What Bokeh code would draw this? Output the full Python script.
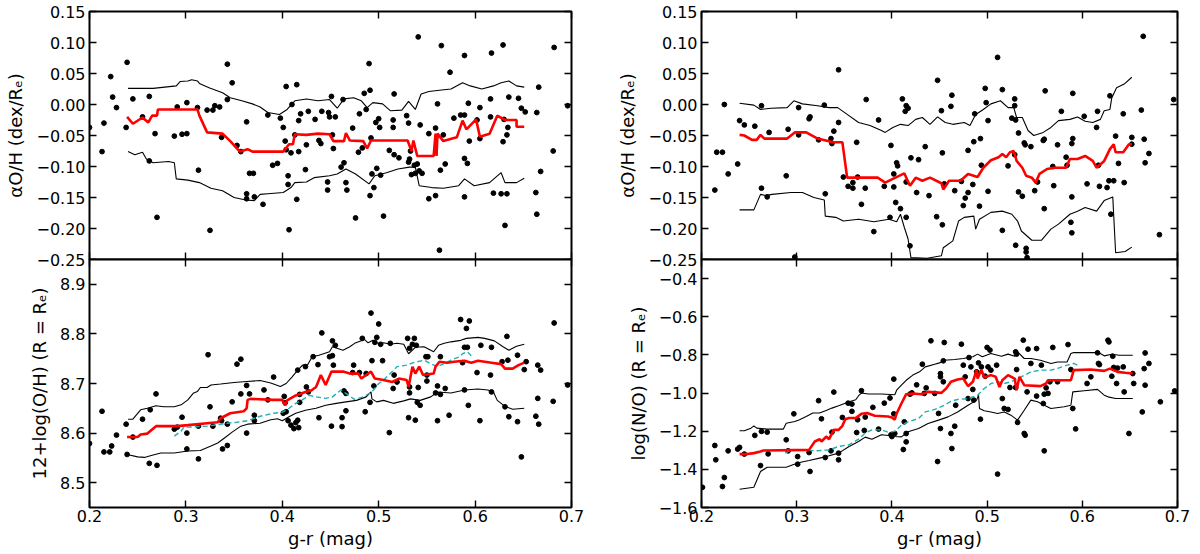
from bokeh.plotting import figure
from bokeh.models import Range1d, LinearAxis, FixedTicker, CustomJSTickFormatter
from bokeh.layouts import row, column
from bokeh.embed import file_html
from bokeh.resources import INLINE

FONT = "DejaVu Sans"

x_ticks = [0.2, 0.3, 0.4, 0.5, 0.6, 0.7]
alpha_ticks = [-0.25, -0.2, -0.15, -0.1, -0.05, 0.0, 0.05, 0.1, 0.15]
oh_ticks = [8.5, 8.6, 8.7, 8.8, 8.9]
no_ticks = [-1.6, -1.4, -1.2, -1.0, -0.8, -0.6, -0.4]

x_label = "g-r (mag)"
alpha_label = "αO/H (dex/Rₑ)"
oh_label = "12+log(O/H) (R = Rₑ)"
no_label = "log(N/O) (R = Rₑ)"

# ---------------- top-left: alpha O/H ----------------
tl_points = [
    (0.200, -0.037), (0.213, -0.076), (0.215, -0.030), (0.222, 0.045), (0.224, 0.012), (0.228, -0.005),
    (0.238, -0.037), (0.239, 0.068), (0.245, 0.009), (0.255, -0.020), (0.262, 0.013), (0.262, -0.091),
    (0.268, -0.047), (0.270, -0.182), (0.288, -0.051), (0.291, -0.004), (0.296, -0.048), (0.301, -0.047),
    (0.301, 0.003), (0.312, -0.005), (0.313, -0.106), (0.322, -0.009), (0.325, -0.203), (0.328, -0.009),
    (0.330, -0.002), (0.335, -0.004), (0.337, -0.053), (0.343, 0.065), (0.343, 0.008), (0.348, 0.035),
    (0.353, -0.066), (0.357, -0.076), (0.363, -0.028), (0.366, -0.111), (0.370, -0.111), (0.363, -0.144),
    (0.363, -0.152), (0.371, -0.149), (0.380, -0.161), (0.385, -0.017), (0.390, -0.098), (0.395, -0.095),
    (0.398, -0.022), (0.401, -0.037), (0.403, -0.059), (0.404, -0.073), (0.404, 0.029), (0.407, -0.202),
    (0.415, 0.032), (0.406, -0.115), (0.406, -0.129), (0.415, -0.153), (0.410, 0.000), (0.413, -0.049),
    (0.409, -0.078), (0.417, -0.026), (0.417, -0.076), (0.419, -0.015), (0.425, -0.065), (0.424, -0.105),
    (0.427, -0.011), (0.434, -0.024), (0.438, -0.058), (0.440, -0.063), (0.441, -0.011), (0.447, -0.125),
    (0.447, -0.138), (0.448, -0.013), (0.449, -0.020), (0.451, 0.013), (0.452, -0.049), (0.453, -0.071),
    (0.455, -0.020), (0.461, -0.101), (0.463, 0.008), (0.464, -0.094), (0.466, -0.126), (0.467, -0.138),
    (0.473, -0.038), (0.476, -0.183), (0.479, -0.077), (0.480, -0.015), (0.485, 0.018), (0.483, -0.070),
    (0.487, -0.008), (0.490, 0.066), (0.491, 0.023), (0.492, -0.054), (0.491, -0.147), (0.493, -0.112),
    (0.495, -0.134), (0.497, -0.029), (0.498, -0.103), (0.500, -0.023), (0.501, -0.037), (0.502, -0.114),
    (0.505, -0.180), (0.511, -0.074), (0.515, -0.037), (0.515, -0.025), (0.516, 0.017), (0.516, -0.081),
    (0.521, -0.086), (0.529, -0.018), (0.531, -0.030), (0.533, -0.075), (0.532, -0.088), (0.531, -0.093),
    (0.534, -0.113), (0.537, -0.098), (0.538, -0.111), (0.540, -0.096), (0.541, 0.109), (0.543, -0.033),
    (0.545, -0.111), (0.542, -0.107), (0.552, -0.047), (0.552, -0.152), (0.559, -0.038), (0.559, -0.147),
    (0.561, 0.001), (0.563, -0.235), (0.565, 0.095), (0.564, -0.106), (0.567, -0.049), (0.569, -0.096),
    (0.574, 0.052), (0.578, -0.022), (0.585, -0.017), (0.589, -0.017), (0.589, 0.079), (0.589, -0.087),
    (0.592, -0.095), (0.589, -0.149), (0.593, 0.002), (0.594, -0.059), (0.602, -0.025), (0.605, -0.005),
    (0.605, -0.055), (0.617, 0.083), (0.616, 0.009), (0.619, -0.143), (0.616, -0.020), (0.629, 0.096),
    (0.629, -0.060), (0.630, -0.024), (0.627, -0.144), (0.631, -0.195), (0.633, -0.144), (0.633, -0.049),
    (0.634, -0.037), (0.635, 0.012), (0.645, 0.010), (0.648, -0.006), (0.652, -0.012), (0.664, -0.013),
    (0.666, 0.028), (0.663, -0.142), (0.664, -0.177), (0.668, -0.108), (0.681, -0.075), (0.682, 0.092),
    (0.696, -0.002),
]
tl_upper = [
    (0.240, 0.026), (0.266, 0.026), (0.290, 0.030), (0.294, 0.037), (0.302, 0.038), (0.306, 0.040),
    (0.312, 0.038), (0.314, 0.034), (0.324, 0.027), (0.338, 0.019), (0.346, 0.011), (0.358, 0.006),
    (0.369, 0.001), (0.377, -0.004), (0.385, -0.013), (0.397, -0.016), (0.405, -0.008), (0.413, 0.006),
    (0.425, 0.009), (0.437, 0.006), (0.449, 0.008), (0.457, -0.006), (0.464, 0.009), (0.474, 0.011),
    (0.482, 0.006), (0.488, -0.005), (0.494, 0.003), (0.504, 0.001), (0.512, -0.010), (0.524, -0.009),
    (0.531, 0.005), (0.538, -0.008), (0.544, 0.017), (0.552, 0.021), (0.563, 0.023), (0.575, 0.025),
    (0.587, 0.035), (0.595, 0.030), (0.607, 0.025), (0.619, 0.030), (0.627, 0.035), (0.635, 0.038),
    (0.643, 0.030), (0.651, 0.028),
]
tl_median = [
    (0.239, -0.020), (0.245, -0.031), (0.255, -0.021), (0.261, -0.029), (0.265, -0.018), (0.270, -0.018),
    (0.271, -0.008), (0.312, -0.008), (0.314, -0.018), (0.322, -0.045), (0.338, -0.047), (0.346, -0.059),
    (0.356, -0.076), (0.364, -0.072), (0.369, -0.076), (0.401, -0.076), (0.407, -0.064), (0.411, -0.064),
    (0.413, -0.048), (0.425, -0.049), (0.437, -0.047), (0.449, -0.048), (0.453, -0.059), (0.464, -0.059),
    (0.466, -0.046), (0.470, -0.058), (0.484, -0.059), (0.488, -0.071), (0.492, -0.058), (0.530, -0.058),
    (0.534, -0.075), (0.536, -0.058), (0.540, -0.083), (0.557, -0.083), (0.559, -0.047), (0.560, -0.083),
    (0.561, -0.047), (0.567, -0.059), (0.581, -0.053), (0.587, -0.026), (0.591, -0.040), (0.601, -0.024),
    (0.605, -0.052), (0.615, -0.047), (0.623, -0.018), (0.631, -0.025), (0.643, -0.025), (0.643, -0.036),
    (0.651, -0.036),
]
tl_lower = [
    (0.240, -0.076), (0.247, -0.081), (0.255, -0.077), (0.259, -0.088), (0.266, -0.094), (0.282, -0.092),
    (0.288, -0.094), (0.290, -0.120), (0.302, -0.122), (0.314, -0.126), (0.326, -0.135), (0.338, -0.139),
    (0.350, -0.150), (0.362, -0.154), (0.371, -0.155), (0.377, -0.145), (0.385, -0.144), (0.401, -0.142),
    (0.409, -0.134), (0.413, -0.126), (0.425, -0.125), (0.433, -0.118), (0.449, -0.115), (0.457, -0.112),
    (0.466, -0.104), (0.476, -0.112), (0.490, -0.128), (0.496, -0.115), (0.508, -0.110), (0.520, -0.104),
    (0.532, -0.101), (0.538, -0.101), (0.542, -0.131), (0.555, -0.134), (0.567, -0.135), (0.583, -0.131),
    (0.589, -0.120), (0.599, -0.131), (0.615, -0.126), (0.627, -0.110), (0.631, -0.126), (0.643, -0.126),
    (0.651, -0.119),
]

# ---------------- top-right: alpha O/H ----------------
tr_points = [
    (0.214, -0.138), (0.216, -0.077), (0.222, -0.077), (0.224, 0.000), (0.228, -0.112), (0.238, -0.096),
    (0.240, -0.026), (0.245, -0.033), (0.256, -0.035), (0.263, -0.002), (0.263, -0.135), (0.269, -0.149),
    (0.271, -0.045), (0.289, -0.115), (0.291, -0.040), (0.298, -0.246), (0.302, -0.049), (0.302, -0.005),
    (0.313, -0.023), (0.314, -0.020), (0.323, -0.057), (0.329, -0.001), (0.330, -0.144), (0.336, -0.055),
    (0.337, -0.063), (0.339, -0.043), (0.344, 0.056), (0.344, -0.029), (0.349, -0.117), (0.354, -0.132),
    (0.359, -0.126), (0.359, -0.135), (0.363, -0.061), (0.364, -0.117), (0.368, -0.161), (0.372, -0.135),
    (0.373, 0.008), (0.381, -0.205), (0.386, -0.025), (0.392, -0.132), (0.399, -0.066), (0.398, -0.182),
    (0.402, -0.112), (0.402, -0.133), (0.405, -0.094), (0.406, -0.099), (0.404, -0.158), (0.409, -0.168),
    (0.415, -0.182), (0.419, -0.228), (0.411, 0.009), (0.415, -0.002), (0.417, -0.006), (0.414, -0.011),
    (0.420, -0.086), (0.415, -0.125), (0.426, -0.142), (0.428, -0.089), (0.435, -0.068), (0.439, -0.147),
    (0.447, -0.181), (0.448, 0.039), (0.452, -0.010), (0.453, -0.078), (0.453, -0.194), (0.455, -0.128),
    (0.462, -0.003), (0.463, 0.015), (0.466, -0.139), (0.473, -0.124), (0.475, -0.163), (0.477, -0.151),
    (0.480, -0.142), (0.480, -0.074), (0.485, -0.129), (0.486, -0.060), (0.487, -0.015), (0.492, -0.164),
    (0.493, -0.055), (0.494, -0.098), (0.498, 0.026), (0.499, 0.003), (0.501, -0.026), (0.501, -0.140),
    (0.511, 0.076), (0.516, 0.024), (0.516, -0.203), (0.522, -0.099), (0.529, 0.009), (0.529, -0.002),
    (0.526, -0.022), (0.530, -0.025), (0.529, -0.081), (0.530, -0.227), (0.533, -0.141), (0.533, -0.046),
    (0.537, -0.148), (0.539, -0.062), (0.540, -0.065), (0.541, -0.238), (0.541, -0.232), (0.542, -0.247),
    (0.546, -0.068), (0.550, -0.139), (0.553, -0.125), (0.559, -0.058), (0.560, -0.056), (0.560, -0.168),
    (0.561, 0.022), (0.569, -0.100), (0.570, -0.131), (0.574, -0.065), (0.578, -0.011), (0.583, -0.085),
    (0.584, -0.098), (0.589, -0.063), (0.590, -0.055), (0.590, 0.018), (0.589, -0.149), (0.588, -0.190),
    (0.589, -0.207), (0.602, -0.019), (0.605, -0.128), (0.616, -0.011), (0.618, -0.132), (0.617, -0.098),
    (0.615, -0.037), (0.626, -0.134), (0.628, -0.123), (0.633, -0.123), (0.630, -0.177), (0.629, 0.014),
    (0.635, -0.051), (0.638, -0.095), (0.643, -0.015), (0.644, -0.126), (0.652, -0.053), (0.652, -0.064),
    (0.662, -0.009), (0.664, 0.110), (0.665, -0.056), (0.666, -0.094), (0.670, -0.079), (0.681, -0.210),
    (0.696, 0.008),
]
tr_upper = [
    (0.240, 0.002), (0.255, -0.001), (0.262, -0.008), (0.273, -0.006), (0.290, -0.005), (0.297, 0.006),
    (0.306, 0.001), (0.322, -0.002), (0.334, -0.005), (0.343, -0.005), (0.353, -0.016), (0.365, -0.029),
    (0.377, -0.034), (0.389, -0.042), (0.393, -0.045), (0.401, -0.037), (0.409, -0.032), (0.417, -0.034),
    (0.425, -0.024), (0.432, -0.021), (0.440, -0.032), (0.448, -0.020), (0.456, -0.029), (0.464, -0.032),
    (0.476, -0.029), (0.482, -0.034), (0.488, -0.016), (0.496, -0.008), (0.504, 0.001), (0.514, 0.006),
    (0.522, -0.005), (0.528, -0.005), (0.531, -0.021), (0.537, -0.021), (0.543, -0.042), (0.549, -0.050),
    (0.559, -0.045), (0.567, -0.037), (0.575, -0.026), (0.587, -0.024), (0.595, -0.020), (0.603, -0.027),
    (0.611, -0.029), (0.619, -0.024), (0.623, -0.010), (0.629, -0.008), (0.631, 0.011), (0.636, 0.027),
    (0.644, 0.033), (0.652, 0.044),
]
tr_median = [
    (0.240, -0.049), (0.245, -0.050), (0.253, -0.057), (0.258, -0.057), (0.262, -0.049), (0.266, -0.055),
    (0.290, -0.055), (0.298, -0.045), (0.310, -0.045), (0.322, -0.055), (0.338, -0.061), (0.348, -0.061),
    (0.353, -0.118), (0.385, -0.118), (0.393, -0.126), (0.401, -0.120), (0.413, -0.111), (0.419, -0.131),
    (0.425, -0.118), (0.432, -0.123), (0.440, -0.118), (0.452, -0.127), (0.454, -0.137), (0.460, -0.123),
    (0.472, -0.123), (0.480, -0.112), (0.490, -0.117), (0.496, -0.102), (0.504, -0.090), (0.512, -0.085),
    (0.516, -0.080), (0.520, -0.085), (0.524, -0.077), (0.528, -0.075), (0.531, -0.091), (0.537, -0.102),
    (0.541, -0.115), (0.547, -0.118), (0.551, -0.126), (0.555, -0.112), (0.563, -0.104), (0.571, -0.102),
    (0.583, -0.102), (0.587, -0.088), (0.595, -0.088), (0.603, -0.083), (0.611, -0.091), (0.615, -0.102),
    (0.623, -0.091), (0.629, -0.072), (0.633, -0.064), (0.635, -0.077), (0.643, -0.077), (0.649, -0.064),
    (0.652, -0.064),
]
tr_lower = [
    (0.240, -0.170), (0.255, -0.170), (0.262, -0.145), (0.268, -0.147), (0.274, -0.145), (0.294, -0.142),
    (0.306, -0.142), (0.318, -0.150), (0.329, -0.154), (0.330, -0.180), (0.341, -0.182), (0.349, -0.188),
    (0.365, -0.185), (0.381, -0.189), (0.397, -0.185), (0.405, -0.189), (0.409, -0.177), (0.413, -0.198),
    (0.417, -0.217), (0.420, -0.247), (0.437, -0.248), (0.452, -0.244), (0.454, -0.231), (0.464, -0.220),
    (0.470, -0.188), (0.476, -0.182), (0.486, -0.180), (0.488, -0.201), (0.492, -0.185), (0.504, -0.174),
    (0.516, -0.172), (0.526, -0.177), (0.532, -0.188), (0.536, -0.204), (0.547, -0.219), (0.557, -0.219),
    (0.567, -0.201), (0.575, -0.193), (0.587, -0.177), (0.595, -0.172), (0.603, -0.166), (0.615, -0.172),
    (0.623, -0.155), (0.632, -0.149), (0.635, -0.239), (0.645, -0.237), (0.652, -0.230),
]

# ---------------- bottom-left: 12+log(O/H) ----------------
bl_points = [
    (0.200, 8.579), (0.213, 8.644), (0.215, 8.562), (0.221, 8.562), (0.223, 8.574), (0.228, 8.596),
    (0.238, 8.618), (0.239, 8.557), (0.245, 8.592), (0.255, 8.628), (0.262, 8.539), (0.263, 8.647),
    (0.269, 8.679), (0.270, 8.535), (0.288, 8.608), (0.291, 8.612), (0.296, 8.632), (0.301, 8.600),
    (0.301, 8.568), (0.313, 8.614), (0.313, 8.548), (0.323, 8.758), (0.325, 8.653), (0.328, 8.614),
    (0.336, 8.630), (0.337, 8.625), (0.338, 8.568), (0.343, 8.575), (0.343, 8.618), (0.348, 8.663),
    (0.353, 8.739), (0.357, 8.749), (0.357, 8.679), (0.363, 8.696), (0.363, 8.600), (0.366, 8.679),
    (0.371, 8.625), (0.371, 8.636), (0.381, 8.687), (0.385, 8.667), (0.391, 8.713), (0.401, 8.640),
    (0.402, 8.674), (0.403, 8.661), (0.404, 8.643), (0.406, 8.625), (0.409, 8.616), (0.412, 8.609),
    (0.416, 8.626), (0.414, 8.621), (0.417, 8.611), (0.416, 8.727), (0.418, 8.662), (0.418, 8.678),
    (0.425, 8.693), (0.424, 8.734), (0.427, 8.683), (0.432, 8.754), (0.437, 8.738), (0.438, 8.631),
    (0.441, 8.802), (0.449, 8.754), (0.452, 8.786), (0.451, 8.614), (0.452, 8.756), (0.455, 8.777),
    (0.453, 8.737), (0.462, 8.613), (0.462, 8.631), (0.464, 8.685), (0.466, 8.645), (0.466, 8.680),
    (0.473, 8.722), (0.474, 8.737), (0.480, 8.722), (0.483, 8.791), (0.486, 8.643), (0.487, 8.720),
    (0.491, 8.662), (0.492, 8.842), (0.493, 8.746), (0.495, 8.695), (0.496, 8.783), (0.498, 8.793),
    (0.500, 8.820), (0.502, 8.779), (0.504, 8.746), (0.511, 8.601), (0.512, 8.781), (0.516, 8.717),
    (0.515, 8.690), (0.519, 8.703), (0.530, 8.791), (0.531, 8.631), (0.532, 8.771), (0.532, 8.693),
    (0.532, 8.681), (0.535, 8.779), (0.537, 8.791), (0.538, 8.626), (0.539, 8.777), (0.540, 8.662),
    (0.541, 8.692), (0.543, 8.656), (0.549, 8.754), (0.551, 8.754), (0.550, 8.717), (0.550, 8.705),
    (0.559, 8.681), (0.561, 8.695), (0.561, 8.625), (0.564, 8.754), (0.564, 8.678), (0.569, 8.690),
    (0.573, 8.636), (0.585, 8.829), (0.589, 8.773), (0.591, 8.811), (0.592, 8.773), (0.594, 8.826),
    (0.593, 8.656), (0.589, 8.687), (0.587, 8.742), (0.602, 8.722), (0.605, 8.625), (0.606, 8.777),
    (0.616, 8.717), (0.617, 8.773), (0.617, 8.683), (0.628, 8.744), (0.633, 8.795), (0.631, 8.653),
    (0.634, 8.747), (0.635, 8.633), (0.644, 8.623), (0.644, 8.757), (0.651, 8.728), (0.648, 8.552),
    (0.653, 8.744), (0.663, 8.634), (0.665, 8.670), (0.666, 8.618), (0.665, 8.737), (0.668, 8.727),
    (0.681, 8.664), (0.682, 8.822), (0.696, 8.697),
]
bl_upper = [
    (0.240, 8.628), (0.245, 8.628), (0.253, 8.647), (0.260, 8.650), (0.269, 8.655), (0.277, 8.653),
    (0.288, 8.653), (0.295, 8.657), (0.302, 8.667), (0.308, 8.681), (0.312, 8.684), (0.315, 8.692),
    (0.322, 8.692), (0.326, 8.697), (0.336, 8.699), (0.350, 8.702), (0.363, 8.704), (0.377, 8.706),
    (0.388, 8.701), (0.398, 8.694), (0.404, 8.700), (0.410, 8.713), (0.416, 8.727), (0.421, 8.737),
    (0.426, 8.737), (0.431, 8.754), (0.438, 8.757), (0.449, 8.764), (0.452, 8.774), (0.463, 8.767),
    (0.470, 8.774), (0.475, 8.781), (0.482, 8.786), (0.484, 8.791), (0.489, 8.782), (0.494, 8.787),
    (0.501, 8.779), (0.505, 8.782), (0.512, 8.779), (0.519, 8.781), (0.526, 8.779), (0.531, 8.760),
    (0.538, 8.773), (0.547, 8.774), (0.557, 8.764), (0.562, 8.777), (0.568, 8.781), (0.575, 8.784),
    (0.585, 8.787), (0.591, 8.791), (0.603, 8.793), (0.610, 8.791), (0.620, 8.786), (0.629, 8.774),
    (0.635, 8.767), (0.643, 8.775), (0.651, 8.779),
]
bl_median = [
    (0.239, 8.592), (0.250, 8.592), (0.253, 8.597), (0.260, 8.599), (0.269, 8.614), (0.291, 8.614),
    (0.302, 8.616), (0.322, 8.620), (0.333, 8.622), (0.336, 8.630), (0.341, 8.635), (0.346, 8.640),
    (0.360, 8.644), (0.363, 8.650), (0.364, 8.667), (0.367, 8.669), (0.391, 8.667), (0.400, 8.667),
    (0.403, 8.656), (0.405, 8.666), (0.414, 8.676), (0.424, 8.683), (0.430, 8.686), (0.435, 8.693),
    (0.440, 8.717), (0.445, 8.697), (0.451, 8.724), (0.463, 8.724), (0.470, 8.720), (0.479, 8.720),
    (0.482, 8.710), (0.487, 8.717), (0.492, 8.724), (0.496, 8.710), (0.505, 8.707), (0.514, 8.703),
    (0.521, 8.710), (0.529, 8.707), (0.531, 8.693), (0.535, 8.734), (0.538, 8.720), (0.542, 8.734),
    (0.546, 8.717), (0.557, 8.720), (0.559, 8.734), (0.563, 8.744), (0.571, 8.742), (0.578, 8.744),
    (0.589, 8.746), (0.596, 8.742), (0.603, 8.746), (0.617, 8.742), (0.627, 8.739), (0.631, 8.730),
    (0.639, 8.730), (0.645, 8.737), (0.651, 8.742),
]
bl_cyan = [
    (0.288, 8.594), (0.295, 8.604), (0.298, 8.612), (0.302, 8.612), (0.322, 8.614), (0.333, 8.617),
    (0.343, 8.620), (0.353, 8.622), (0.364, 8.625), (0.377, 8.634), (0.391, 8.640), (0.400, 8.642),
    (0.407, 8.650), (0.414, 8.660), (0.419, 8.665), (0.428, 8.676), (0.435, 8.673), (0.445, 8.670),
    (0.452, 8.673), (0.461, 8.687), (0.466, 8.680), (0.475, 8.668), (0.484, 8.673), (0.493, 8.683),
    (0.500, 8.700), (0.505, 8.707), (0.512, 8.720), (0.519, 8.734), (0.529, 8.737), (0.536, 8.742),
    (0.547, 8.747), (0.554, 8.740), (0.561, 8.734), (0.568, 8.740), (0.575, 8.747), (0.584, 8.754),
    (0.587, 8.760), (0.592, 8.764), (0.597, 8.754),
]
bl_lower = [
    (0.239, 8.557), (0.250, 8.552), (0.257, 8.551), (0.264, 8.555), (0.274, 8.560), (0.288, 8.560),
    (0.295, 8.562), (0.302, 8.564), (0.315, 8.565), (0.326, 8.574), (0.333, 8.580), (0.340, 8.590),
    (0.348, 8.602), (0.357, 8.614), (0.364, 8.618), (0.377, 8.620), (0.388, 8.627), (0.395, 8.629),
    (0.400, 8.625), (0.407, 8.633), (0.414, 8.640), (0.424, 8.646), (0.435, 8.650), (0.445, 8.656),
    (0.456, 8.660), (0.466, 8.663), (0.477, 8.666), (0.487, 8.673), (0.492, 8.683), (0.493, 8.669),
    (0.498, 8.663), (0.505, 8.666), (0.515, 8.660), (0.526, 8.665), (0.533, 8.669), (0.543, 8.666),
    (0.554, 8.673), (0.561, 8.683), (0.575, 8.681), (0.589, 8.687), (0.603, 8.689), (0.613, 8.687),
    (0.619, 8.683), (0.623, 8.666), (0.631, 8.654), (0.639, 8.648), (0.651, 8.650),
]

# ---------------- bottom-right: log(N/O) ----------------
br_points = [
    (0.201, -1.494), (0.214, -1.275), (0.215, -1.350), (0.222, -1.490), (0.224, -1.443), (0.228, -1.303),
    (0.238, -1.294), (0.240, -1.285), (0.245, -1.320), (0.256, -1.222), (0.263, -1.201), (0.262, -1.380),
    (0.269, -1.205), (0.270, -1.319), (0.289, -1.245), (0.291, -1.303), (0.297, -1.109), (0.301, -1.333),
    (0.301, -1.373), (0.313, -1.312), (0.314, -1.411), (0.323, -1.040), (0.326, -1.135), (0.330, -1.338),
    (0.336, -1.303), (0.337, -1.205), (0.339, -0.995), (0.344, -1.350), (0.344, -1.315), (0.348, -1.128),
    (0.354, -1.053), (0.358, -1.058), (0.358, -1.096), (0.363, -1.207), (0.364, -1.140), (0.368, -0.988),
    (0.371, -1.196), (0.372, -1.126), (0.380, -1.075), (0.386, -1.189), (0.392, -1.053), (0.398, -1.026),
    (0.402, -0.927), (0.402, -1.109), (0.399, -1.219), (0.400, -1.228), (0.403, -1.212), (0.413, -1.151),
    (0.415, -1.256), (0.415, -1.212), (0.412, -1.296), (0.419, -1.006), (0.421, -0.999), (0.426, -0.957),
    (0.432, -0.849), (0.434, -1.002), (0.436, -0.973), (0.441, -0.726), (0.445, -1.002), (0.448, -1.359),
    (0.449, -1.107), (0.451, -0.898), (0.451, -0.915), (0.451, -1.186), (0.454, -0.941), (0.454, -0.831),
    (0.455, -0.735), (0.462, -1.212), (0.463, -1.291), (0.466, -1.174), (0.467, -1.064), (0.473, -0.744),
    (0.475, -0.854), (0.477, -0.915), (0.480, -1.029), (0.481, -0.814), (0.483, -0.863), (0.485, -0.981),
    (0.486, -1.037), (0.489, -0.889), (0.491, -0.842), (0.493, -1.137), (0.494, -0.863), (0.498, -0.912),
    (0.500, -0.761), (0.503, -0.775), (0.501, -0.863), (0.504, -0.880), (0.510, -0.854), (0.511, -1.425),
    (0.516, -1.029), (0.518, -1.081), (0.522, -1.086), (0.524, -0.971), (0.530, -0.784), (0.531, -0.796),
    (0.531, -0.877), (0.530, -0.971), (0.532, -1.154), (0.538, -0.723), (0.539, -1.212), (0.540, -1.221),
    (0.543, -0.770), (0.542, -0.994), (0.546, -0.845), (0.552, -0.767), (0.552, -1.016), (0.557, -0.854),
    (0.559, -1.055), (0.560, -1.303), (0.560, -1.006), (0.562, -0.973), (0.564, -1.002), (0.566, -0.941),
    (0.569, -0.761), (0.574, -0.941), (0.585, -0.746), (0.588, -0.877), (0.590, -1.081), (0.593, -1.188),
    (0.605, -0.950), (0.609, -0.915), (0.616, -0.789), (0.617, -0.845), (0.618, -0.851), (0.627, -0.723),
    (0.628, -0.732), (0.632, -0.807), (0.631, -0.912), (0.633, -0.866), (0.636, -0.950), (0.637, -0.869),
    (0.643, -0.863), (0.644, -0.994), (0.649, -1.212), (0.654, -0.950), (0.653, -0.898), (0.663, -1.099),
    (0.665, -0.872), (0.666, -0.790), (0.666, -0.959), (0.670, -0.845), (0.682, -1.046), (0.697, -0.989),
]
br_upper = [
    (0.240, -1.198), (0.245, -1.198), (0.252, -1.184), (0.255, -1.172), (0.258, -1.184), (0.269, -1.189),
    (0.286, -1.189), (0.289, -1.158), (0.298, -1.149), (0.303, -1.140), (0.310, -1.123), (0.317, -1.105),
    (0.324, -1.105), (0.331, -1.091), (0.337, -1.079), (0.344, -1.067), (0.351, -1.053), (0.356, -1.044),
    (0.362, -1.035), (0.365, -1.014), (0.368, -1.000), (0.375, -1.005), (0.389, -1.005), (0.403, -1.009),
    (0.405, -0.985), (0.410, -0.959), (0.415, -0.933), (0.422, -0.906), (0.429, -0.889), (0.435, -0.863),
    (0.445, -0.849), (0.450, -0.842), (0.455, -0.828), (0.466, -0.824), (0.475, -0.819), (0.485, -0.810),
    (0.490, -0.796), (0.495, -0.810), (0.504, -0.793), (0.515, -0.807), (0.522, -0.796), (0.529, -0.807),
    (0.532, -0.784), (0.539, -0.819), (0.546, -0.819), (0.556, -0.828), (0.567, -0.845), (0.574, -0.837),
    (0.584, -0.837), (0.588, -0.793), (0.591, -0.788), (0.609, -0.788), (0.617, -0.788), (0.623, -0.805),
    (0.631, -0.797), (0.639, -0.802), (0.653, -0.802),
]
br_median = [
    (0.240, -1.320), (0.248, -1.320), (0.255, -1.315), (0.262, -1.306), (0.265, -1.301), (0.313, -1.298),
    (0.319, -1.254), (0.324, -1.242), (0.326, -1.254), (0.331, -1.228), (0.334, -1.242), (0.339, -1.193),
    (0.344, -1.193), (0.348, -1.172), (0.351, -1.137), (0.355, -1.131), (0.362, -1.131), (0.368, -1.109),
    (0.374, -1.105), (0.382, -1.119), (0.396, -1.123), (0.400, -1.128), (0.403, -1.140), (0.405, -1.107),
    (0.410, -1.055), (0.415, -1.006), (0.422, -1.002), (0.431, -1.006), (0.438, -0.994), (0.452, -0.999),
    (0.457, -0.976), (0.462, -0.941), (0.469, -0.929), (0.475, -0.924), (0.480, -0.964), (0.485, -0.941),
    (0.489, -0.880), (0.490, -0.924), (0.494, -0.877), (0.497, -0.919), (0.504, -0.906), (0.509, -0.915),
    (0.513, -0.968), (0.516, -0.933), (0.522, -0.906), (0.529, -0.924), (0.531, -0.985), (0.534, -0.915),
    (0.539, -0.959), (0.556, -0.964), (0.562, -0.950), (0.564, -0.933), (0.588, -0.933), (0.591, -0.880),
    (0.609, -0.877), (0.623, -0.884), (0.629, -0.872), (0.637, -0.889), (0.645, -0.894), (0.653, -0.898),
]
br_cyan = [
    (0.288, -1.315), (0.293, -1.301), (0.307, -1.298), (0.320, -1.303), (0.334, -1.298), (0.344, -1.280),
    (0.355, -1.271), (0.365, -1.242), (0.372, -1.210), (0.379, -1.193), (0.389, -1.193), (0.396, -1.205),
    (0.403, -1.201), (0.410, -1.168), (0.417, -1.151), (0.428, -1.133), (0.435, -1.099), (0.445, -1.086),
    (0.455, -1.064), (0.462, -1.043), (0.469, -1.034), (0.480, -1.029), (0.490, -1.011), (0.497, -0.976),
    (0.504, -0.950), (0.512, -0.941), (0.518, -0.950), (0.525, -0.941), (0.536, -0.915), (0.546, -0.889),
    (0.556, -0.880), (0.567, -0.880), (0.574, -0.871), (0.584, -0.854), (0.591, -0.845), (0.595, -0.854),
]
br_lower = [
    (0.240, -1.504), (0.255, -1.494), (0.262, -1.411), (0.269, -1.389), (0.289, -1.389), (0.296, -1.376),
    (0.303, -1.364), (0.313, -1.354), (0.324, -1.341), (0.334, -1.329), (0.344, -1.315), (0.355, -1.280),
    (0.365, -1.254), (0.372, -1.231), (0.379, -1.242), (0.389, -1.219), (0.399, -1.224), (0.403, -1.228),
    (0.410, -1.230), (0.417, -1.203), (0.428, -1.186), (0.438, -1.160), (0.449, -1.142), (0.459, -1.125),
    (0.469, -1.099), (0.480, -1.064), (0.489, -1.037), (0.491, -1.011), (0.492, -1.081), (0.497, -1.093),
    (0.504, -1.099), (0.511, -1.107), (0.518, -1.099), (0.525, -1.116), (0.532, -1.142), (0.539, -1.090),
    (0.546, -1.037), (0.553, -1.046), (0.560, -1.064), (0.567, -1.081), (0.581, -1.072), (0.588, -1.064),
    (0.590, -0.994), (0.602, -0.988), (0.616, -0.981), (0.623, -1.011), (0.627, -1.020), (0.635, -1.029),
    (0.653, -1.029),
]


def unzip(pairs):
    return [p[0] for p in pairs], [p[1] for p in pairs]


def num_fmt(dec):
    return CustomJSTickFormatter(code="return tick.toFixed(%d).replace('-', '\\u2212');" % dec)


def style_axis(ax, ticks, labeled, dec, tick_standoff, label_standoff):
    ax.ticker = FixedTicker(ticks=ticks)
    ax.major_tick_in = 7
    ax.major_tick_out = 0
    ax.minor_tick_in = 0
    ax.minor_tick_out = 0
    ax.major_tick_line_color = "black"
    ax.major_tick_line_width = 1.4
    ax.axis_line_color = None
    if labeled:
        ax.formatter = num_fmt(dec)
        ax.major_label_text_font = FONT
        ax.major_label_text_font_size = "16px"
        ax.major_label_text_color = "black"
        ax.major_label_standoff = tick_standoff
    else:
        ax.formatter = CustomJSTickFormatter(code="return '';")
        ax.major_label_text_font_size = "0px"
        ax.major_label_standoff = 0
    ax.axis_label_text_font = FONT
    ax.axis_label_text_font_size = "18px"
    ax.axis_label_text_font_style = "normal"
    ax.axis_label_text_color = "black"
    ax.axis_label_standoff = label_standoff


FRAME_W = 482
FRAME_H = 248


def make_panel(x_range, y_range, yticks, ydec, ylabel, is_bottom, left_b, right_b,
               points, upper, median, lower, cyan=None):
    top_b = 8 if is_bottom else 11
    bottom_b = 44 if is_bottom else 11
    p = figure(width=left_b + FRAME_W + right_b, height=top_b + FRAME_H + bottom_b,
               x_range=x_range, y_range=y_range, output_backend="svg",
               toolbar_location=None, tools="",
               min_border_left=left_b, min_border_right=right_b,
               min_border_top=top_b, min_border_bottom=bottom_b)
    p.grid.visible = False
    p.outline_line_color = "black"
    p.outline_line_width = 2
    p.background_fill_color = "white"
    p.border_fill_color = "white"
    if is_bottom:
        p.border_fill_alpha = 0.0

    xa = p.xaxis[0]
    style_axis(xa, x_ticks, is_bottom, 1, 2, 3)
    xa.axis_label = x_label if is_bottom else None
    ya = p.yaxis[0]
    style_axis(ya, yticks, True, ydec, 4, 7)
    ya.axis_label = ylabel

    top_ax = LinearAxis()
    style_axis(top_ax, x_ticks, False, 1, 0, 0)
    p.add_layout(top_ax, "above")
    right_ax = LinearAxis()
    style_axis(right_ax, yticks, False, ydec, 0, 0)
    p.add_layout(right_ax, "right")

    px, py = unzip(points)
    p.scatter(px, py, size=4.8, color="black", line_color="black")
    for ln in (upper, lower):
        lx, ly = unzip(ln)
        p.line(lx, ly, line_color="black", line_width=1.1)
    if cyan is not None:
        cx, cy = unzip(cyan)
        p.line(cx, cy, line_color="#1fb0b0", line_width=1.4, line_dash="5 3")
    mx, my = unzip(median)
    p.line(mx, my, line_color="#ff0000", line_width=2.6)
    return p


x_left = Range1d(0.2, 0.7)
x_right = Range1d(0.2, 0.7)

tl = make_panel(x_left, Range1d(-0.25, 0.15), alpha_ticks, 2, alpha_label, False, 89, 40,
                tl_points, tl_upper, tl_median, tl_lower)
bl = make_panel(x_left, Range1d(8.45, 8.95), oh_ticks, 1, oh_label, True, 89, 40,
                bl_points, bl_upper, bl_median, bl_lower, bl_cyan)
tr = make_panel(x_right, Range1d(-0.25, 0.15), alpha_ticks, 2, alpha_label, False, 90, 14,
                tr_points, tr_upper, tr_median, tr_lower)
br = make_panel(x_right, Range1d(-1.6, -0.3), no_ticks, 1, no_label, True, 90, 14,
                br_points, br_upper, br_median, br_lower, br_cyan)

tl.margin = (0, 0, 0, 0)
bl.margin = (-19, 0, -10, 0)
tr.margin = (0, -6, 0, 0)
br.margin = (-19, -6, -10, 0)

layout = row(column(tl, bl), column(tr, br))

open("out.html", "w").write(file_html(layout, INLINE))
